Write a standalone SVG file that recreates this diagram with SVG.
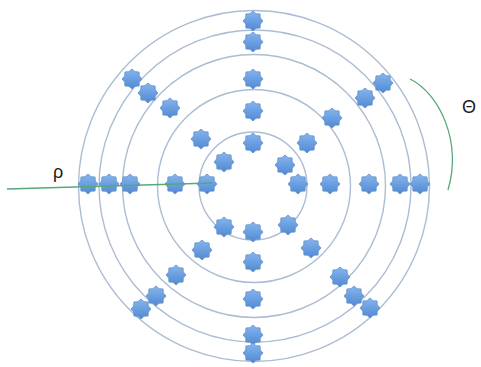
<svg xmlns="http://www.w3.org/2000/svg" xmlns:xlink="http://www.w3.org/1999/xlink" width="481" height="367" viewBox="0 0 481 367">
  <defs>
    <linearGradient id="starFill" x1="0" y1="0" x2="0" y2="1">
      <stop offset="0" stop-color="#86b6ee"/>
      <stop offset="1" stop-color="#5088d2"/>
    </linearGradient>
    <!-- eight-point star, point up -->
    <polygon id="star" points="0,-10 3.02,-7.3 7.07,-7.07 7.3,-3.02 10,0 7.3,3.02 7.07,7.07 3.02,7.3 0,10 -3.02,7.3 -7.07,7.07 -7.3,3.02 -10,0 -7.3,-3.02 -7.07,-7.07 -3.02,-7.3" fill="url(#starFill)" stroke="#5f8fcb" stroke-width="0.8" stroke-linejoin="round"/>
  </defs>
  <style>
    .ring { fill: none; stroke: #acbdd3; stroke-width: 1.4; }
    .guide { fill: none; stroke: #55a97a; stroke-width: 1.3; }
    .label { font-family: "Liberation Sans", Arial, sans-serif; fill: #1a1a1a; }
  </style>
  <rect width="481" height="367" fill="#ffffff"/>

  <!-- concentric rings -->
  <g id="rings">
    <circle class="ring" cx="254" cy="186" r="175.5"/>
    <circle class="ring" cx="255" cy="186" r="156"/>
    <circle class="ring" cx="254" cy="186" r="131.5"/>
    <circle class="ring" cx="254" cy="186" r="96.5"/>
    <circle class="ring" cx="253" cy="186" r="54"/>
  </g>

  <!-- stars -->
  <g id="stars">
    <use id="s-t1" xlink:href="#star" x="253" y="21"/>
    <use id="s-t2" xlink:href="#star" x="253" y="42"/>
    <use id="s-t3" xlink:href="#star" x="253" y="79"/>
    <use id="s-t4" xlink:href="#star" x="253" y="111"/>
    <use id="s-t5" xlink:href="#star" x="253" y="143"/>

    <use id="s-b1" xlink:href="#star" x="253" y="232"/>
    <use id="s-b2" xlink:href="#star" x="253" y="262"/>
    <use id="s-b3" xlink:href="#star" x="253" y="299"/>
    <use id="s-b4" xlink:href="#star" x="253" y="335"/>
    <use id="s-b5" xlink:href="#star" x="253" y="353"/>

    <use id="s-l1" xlink:href="#star" x="88" y="184"/>
    <use id="s-l2" xlink:href="#star" x="109" y="184"/>
    <use id="s-l3" xlink:href="#star" x="130" y="184"/>
    <use id="s-l4" xlink:href="#star" x="175" y="184"/>
    <use id="s-l5" xlink:href="#star" x="207" y="184"/>

    <use id="s-r1" xlink:href="#star" x="298" y="184"/>
    <use id="s-r2" xlink:href="#star" x="330" y="184"/>
    <use id="s-r3" xlink:href="#star" x="369" y="184"/>
    <use id="s-r4" xlink:href="#star" x="400" y="184"/>
    <use id="s-r5" xlink:href="#star" x="420" y="184"/>

    <use id="s-ul1" xlink:href="#star" x="132" y="79"/>
    <use id="s-ul2" xlink:href="#star" x="148" y="93"/>
    <use id="s-ul3" xlink:href="#star" x="170" y="108"/>
    <use id="s-ul4" xlink:href="#star" x="201" y="139"/>
    <use id="s-ul5" xlink:href="#star" x="224" y="162"/>

    <use id="s-ur1" xlink:href="#star" x="383" y="83"/>
    <use id="s-ur2" xlink:href="#star" x="365" y="98"/>
    <use id="s-ur3" xlink:href="#star" x="332" y="118"/>
    <use id="s-ur4" xlink:href="#star" x="307" y="143"/>
    <use id="s-ur5" xlink:href="#star" x="285" y="165"/>

    <use id="s-ll1" xlink:href="#star" x="224" y="227"/>
    <use id="s-ll2" xlink:href="#star" x="202" y="250"/>
    <use id="s-ll3" xlink:href="#star" x="176" y="275"/>
    <use id="s-ll4" xlink:href="#star" x="156" y="296"/>
    <use id="s-ll5" xlink:href="#star" x="141" y="309"/>

    <use id="s-lr1" xlink:href="#star" x="288" y="225"/>
    <use id="s-lr2" xlink:href="#star" x="311" y="248"/>
    <use id="s-lr3" xlink:href="#star" x="340" y="277"/>
    <use id="s-lr4" xlink:href="#star" x="354" y="296"/>
    <use id="s-lr5" xlink:href="#star" x="370" y="308"/>
  </g>

  <!-- radial line and angular arc -->
  <g id="guides">
    <line class="guide" x1="7" y1="189" x2="212" y2="183"/>
    <path class="guide" d="M410,79 C440,94 462,142 448,190"/>
  </g>

  <g id="labels">
    <text class="label" x="53" y="178" font-size="18">ρ</text>
    <text class="label" x="462" y="113" font-size="18">Θ</text>
  </g>
</svg>
